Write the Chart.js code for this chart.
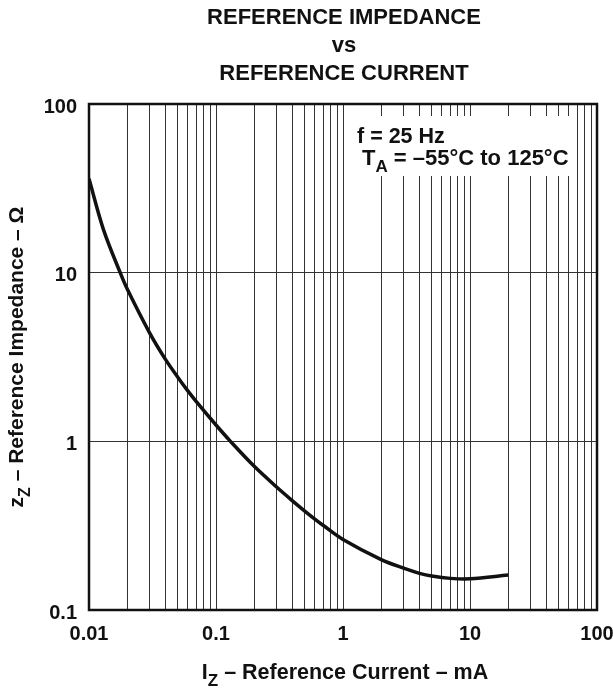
<!DOCTYPE html>
<html>
<head>
<meta charset="utf-8">
<script src="https://cdn.jsdelivr.net/npm/chart.js@4.4.0/dist/chart.umd.min.js"></script>
<style>
html, body { margin: 0; padding: 0; background: #fff; }
#wrap { width: 613px; height: 688px; position: relative; }
</style>
</head>
<body>
<div id="wrap"><canvas id="myChart"></canvas></div>
<script>
// values (mA, ohm)
const currentMA = [0.01, 0.013, 0.0176, 0.02, 0.03, 0.04, 0.05, 0.06, 0.07, 0.1, 0.13, 0.2, 0.3, 0.4, 0.5, 0.6, 0.7, 1, 2, 3, 4, 5, 7, 10, 20];
const impedanceOhm = [36, 18, 10, 8.0, 4.4, 3.06, 2.40, 1.99, 1.72, 1.25, 1.0, 0.711, 0.536, 0.444, 0.386, 0.346, 0.317, 0.262, 0.199, 0.177, 0.165, 0.159, 0.154, 0.153, 0.161];

const xDecades = [0.01, 0.1, 1, 10, 100];
const xTickLabels = ['0.01', '0.1', '1', '10', '100'];
const yDecades = [0.1, 1, 10, 100];
const yTickLabels = ['0.1', '1', '10', '100'];

const titleLines = ['REFERENCE IMPEDANCE', 'vs', 'REFERENCE CURRENT'];
const xTitle = [['I', false], ['Z', true], [' \u2013 Reference Current \u2013 mA', false]];
const yTitle = [['z', false], ['Z', true], [' \u2013 Reference Impedance \u2013 \u03A9', false]];
const noteLine1 = [['f = 25 Hz', false]];
const noteLine2 = [['T', false], ['A', true], [' = \u201355\u00B0C to 125\u00B0C', false]];

// grid lines at 1..9 of every decade
let xGrid = [];
for (let i = 0; i < xDecades.length - 1; i++) {
    for (let m = 1; m <= 9; m++) xGrid.push(xDecades[i] * m);
}
xGrid.push(xDecades[xDecades.length - 1]);

const FONT = '"Liberation Sans", Arial, Helvetica, sans-serif';
const INK = '#111';

function drawParts(ctx, parts, x, y, size, align) {
    const big = 'bold ' + size + 'px ' + FONT;
    const small = 'bold ' + Math.round(size * 0.78) + 'px ' + FONT;
    let total = 0;
    parts.forEach(p => { ctx.font = p[1] ? small : big; total += ctx.measureText(p[0]).width; });
    let cx = align === 'center' ? x - total / 2 : x;
    ctx.textAlign = 'left';
    ctx.textBaseline = 'alphabetic';
    parts.forEach(p => {
        ctx.font = p[1] ? small : big;
        ctx.fillText(p[0], cx, p[1] ? y + size * 0.33 : y);
        cx += ctx.measureText(p[0]).width;
    });
}

const textPlugin = {
    id: 'texts',
    beforeDatasetsDraw(chart) {
        const ctx = chart.ctx;
        ctx.save();
        ctx.fillStyle = '#fff';
        ctx.fillRect(351, 116, 221, 60);
        ctx.restore();
    },
    afterDraw(chart) {
        const ctx = chart.ctx;
        const a = chart.chartArea;
        const cx = (a.left + a.right) / 2;
        ctx.save();
        ctx.fillStyle = INK;
        ctx.strokeStyle = INK;
        ctx.lineWidth = 2.5;
        ctx.strokeRect(a.left, a.top, a.right - a.left, a.bottom - a.top);

        ctx.font = 'bold 22px ' + FONT;
        ctx.textAlign = 'center';
        ctx.textBaseline = 'alphabetic';
        titleLines.forEach((t, i) => ctx.fillText(t, cx + 1, 24 + i * 28));

        drawParts(ctx, xTitle, cx + 2, 679, 21.5, 'center');

        ctx.save();
        ctx.translate(23, (a.top + a.bottom) / 2);
        ctx.rotate(-Math.PI / 2);
        drawParts(ctx, yTitle, 0, 0, 21, 'center');
        ctx.restore();

        drawParts(ctx, noteLine1, 357, 143, 21.5, 'left');
        drawParts(ctx, noteLine2, 362, 165, 22, 'left');
        ctx.restore();
    }
};

const ctx = document.getElementById('myChart').getContext('2d');
const myChart = new Chart(ctx, {
    type: 'line',
    data: {
        datasets: [{
            data: currentMA.map((x, i) => ({ x: x, y: impedanceOhm[i] })),
            borderColor: INK,
            borderWidth: 3.5,
            pointRadius: 0,
            tension: 0.35,
            fill: false
        }]
    },
    options: {
        responsive: true,
        maintainAspectRatio: false,
        animation: false,
        layout: { padding: { top: 104, right: 16, bottom: 0, left: 0 } },
        plugins: { legend: { display: false }, tooltip: { enabled: false }, title: { display: false } },
        scales: {
            x: {
                type: 'logarithmic',
                min: 0.01,
                max: 100,
                afterBuildTicks: s => { s.ticks = xGrid.map(v => ({ value: v })); },
                afterFit: s => { s.height = 78; s.paddingLeft = 0; s.paddingRight = 0; },
                grid: { color: '#333', lineWidth: 1, drawTicks: false },
                border: { display: false },
                ticks: {
                    autoSkip: false, maxRotation: 0, minRotation: 0, padding: 12,
                    color: INK, font: { family: FONT, size: 20, weight: 'bold' },
                    callback: v => { const i = xDecades.indexOf(v); return i >= 0 ? xTickLabels[i] : ''; }
                }
            },
            y: {
                type: 'logarithmic',
                min: 0.1,
                max: 100,
                afterBuildTicks: s => { s.ticks = yDecades.map(v => ({ value: v })); },
                afterFit: s => { s.width = 89; s.paddingTop = 0; s.paddingBottom = 0; },
                grid: { color: '#333', lineWidth: 1, drawTicks: false },
                border: { display: false },
                ticks: {
                    autoSkip: false, padding: 12, labelOffset: 3,
                    color: INK, font: { family: FONT, size: 20, weight: 'bold' },
                    callback: v => { const i = yDecades.indexOf(v); return i >= 0 ? yTickLabels[i] : ''; }
                }
            }
        }
    },
    plugins: [textPlugin]
});
</script>
</body>
</html>
